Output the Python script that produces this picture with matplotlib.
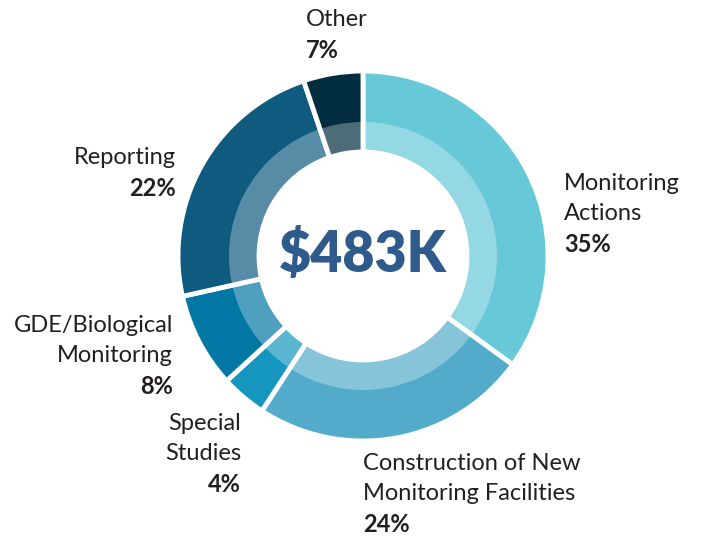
import matplotlib
matplotlib.use("Agg")
import matplotlib.pyplot as plt
from matplotlib.patches import Wedge
import numpy as np

categories = ["Monitoring\nActions", "Construction of New\nMonitoring Facilities",
              "Special\nStudies", "GDE/Biological\nMonitoring", "Reporting", "Other"]
shares = [35, 24.2, 4.0, 8.3, 23.3, 5.2]
pct_labels = ["35%", "24%", "4%", "8%", "22%", "7%"]
outer_colors = ["#67C8D8", "#52ABCA", "#1496BE", "#0377A4", "#0F5B80", "#022D3E"]
total_label = "$483K"

plt.rcParams['font.family'] = ['Lato', 'DejaVu Sans']

W, H = 704, 539
fig = plt.figure(figsize=(W / 100, H / 100), dpi=100)
ax = fig.add_axes([0, 0, 1, 1])

cx, cy = 363, H - 256
R_out, R_mid, R_in = 185, 134, 104

ax.pie(shares, colors=outer_colors, startangle=90, counterclock=False,
       radius=R_out, center=(cx, cy), frame=True,
       wedgeprops=dict(width=R_out - R_in, edgecolor='white', linewidth=3.5))
# lighter inner band: translucent white overlay
ax.add_patch(Wedge((cx, cy), R_mid, 0, 360, width=R_mid - R_in,
                   facecolor='white', alpha=0.3, edgecolor='none', zorder=5))
ax.set_xlim(0, W)
ax.set_ylim(0, H)
ax.set_aspect('equal')
ax.axis('off')

ax.text(cx, H - 254, total_label, ha='center', va='center', fontsize=40,
        fontweight='heavy', color='#2E5A8C', zorder=6)

txt = '#231F20'
fs = 17
placements = [
    (564, 183, 'left'),
    (363, 463, 'left'),
    (241, 423, 'right'),
    (173, 325, 'right'),
    (176, 157, 'right'),
    (306, 20, 'left'),
]
line_h = 31
for cat, pct, (x, y, ha) in zip(categories, pct_labels, placements):
    lines = cat.split("\n")
    for i, ln in enumerate(lines):
        ax.text(x, H - (y + i * line_h), ln, ha=ha, va='center', fontsize=fs, color=txt)
    ax.text(x, H - (y + len(lines) * line_h), pct, ha=ha, va='center', fontsize=fs,
            fontweight='bold', color=txt)

fig.savefig("out.png", dpi=100)
